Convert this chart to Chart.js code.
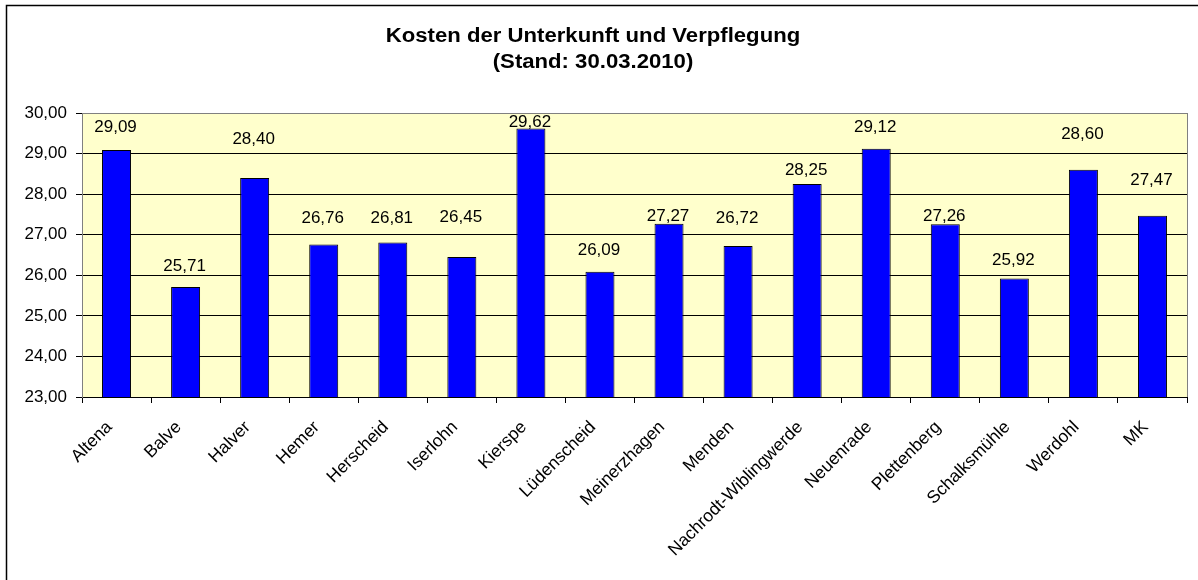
<!DOCTYPE html>
<html>
<head>
<meta charset="utf-8">
<script src="https://cdn.jsdelivr.net/npm/chart.js@4.4.1/dist/chart.umd.min.js"></script>
<style>
  html, body { margin: 0; padding: 0; background: #ffffff; }
  #wrap { width: 1198px; height: 580px; position: relative; }
</style>
</head>
<body>
<div id="wrap"><canvas id="c" width="1198" height="580"></canvas></div>
<script>
const categories = ["Altena", "Balve", "Halver", "Hemer", "Herscheid", "Iserlohn", "Kierspe", "Lüdenscheid", "Meinerzhagen", "Menden", "Nachrodt-Wiblingwerde", "Neuenrade", "Plettenberg", "Schalksmühle", "Werdohl", "MK"];
const costs = [29.09, 25.71, 28.40, 26.76, 26.81, 26.45, 29.62, 26.09, 27.27, 26.72, 28.25, 29.12, 27.26, 25.92, 28.60, 27.47];
const titleLines = ["Kosten der Unterkunft und Verpflegung", "(Stand: 30.03.2010)"];
const yMin = 23, yMax = 30, yStep = 1;

const fmt = v => v.toFixed(2).replace('.', ',');
const FONT = "'Liberation Sans', Arial, sans-serif";

const decorPlugin = {
  id: 'decor',
  beforeDraw(chart) {
    const ctx = chart.ctx, a = chart.chartArea;
    ctx.save();
    ctx.fillStyle = '#ffffff';
    ctx.fillRect(0, 0, chart.width, chart.height);
    ctx.fillStyle = '#FFFFCC';
    ctx.fillRect(a.left, a.top, a.right - a.left, a.bottom - a.top);
    // outer frame (cropped at right/bottom)
    ctx.strokeStyle = '#000000';
    ctx.lineWidth = 1.5;
    ctx.strokeRect(6.5, 5.5, chart.width + 20, chart.height + 20);
    // title
    ctx.fillStyle = '#000000';
    ctx.textAlign = 'center';
    ctx.textBaseline = 'alphabetic';
    ctx.font = "bold 19.5px " + FONT;
    const cx = 593;
    [[titleLines[0], 42], [titleLines[1], 68]].forEach(([t, y]) => {
      ctx.save();
      ctx.translate(cx, y);
      ctx.scale(1.135, 1);
      ctx.fillText(t, 0, 0);
      ctx.restore();
    });
    ctx.restore();
  },
  afterDraw(chart, args, opts) {
    const ctx = chart.ctx, a = chart.chartArea;
    ctx.save();
    ctx.strokeStyle = '#808080';
    ctx.lineWidth = 1;
    ctx.beginPath();
    ctx.moveTo(Math.round(a.right) + 0.5, a.top);
    ctx.lineTo(Math.round(a.right) + 0.5, a.bottom);
    ctx.stroke();
    // data labels
    const meta = chart.getDatasetMeta(0);
    const lifts = opts.lifts || [];
    ctx.fillStyle = '#000000';
    ctx.font = "17px " + FONT;
    ctx.textAlign = 'center';
    ctx.textBaseline = 'middle';
    meta.data.forEach((bar, i) => {
      const lift = lifts[i] !== undefined ? lifts[i] : 22;
      ctx.fillText(fmt(costs[i]), bar.x - 1, bar.y - lift);
    });
    ctx.restore();
  }
};

new Chart(document.getElementById('c'), {
  type: 'bar',
  data: {
    labels: categories,
    datasets: [{
      data: costs,
      backgroundColor: '#0000FF',
      borderColor: '#000000',
      borderWidth: 1,
      barPercentage: 0.42,
      categoryPercentage: 1.0
    }]
  },
  options: {
    responsive: false,
    animation: false,
    devicePixelRatio: 1,
    layout: { padding: { left: 0, top: 113, right: 11, bottom: 0 } },
    plugins: {
      legend: { display: false },
      title: { display: false },
      tooltip: { enabled: false },
      decor: {
        // label placement above each bar top (pixels), as laid out in the original
        lifts: [23, 21, 39, 26.5, 24.5, 39.5, 6.5, 21.5, 7, 28, 14, 21, 7.5, 18.5, 35, 35]
      }
    },
    scales: {
      x: {
        offset: true,
        afterFit(scale) { scale.height = 183; },
        grid: {
          offset: true,
          drawOnChartArea: false,
          drawTicks: true,
          tickLength: 6,
          tickColor: '#000000'
        },
        border: { color: '#000000', width: 1 },
        ticks: {
          minRotation: 45,
          maxRotation: 45,
          autoSkip: false,
          padding: 14,
          labelOffset: -7,
          color: '#000000',
          font: { family: FONT, size: 17.5 }
        }
      },
      y: {
        min: yMin,
        max: yMax,
        afterFit(scale) { scale.width = 82; },
        grid: {
          color: ctx => (ctx.tick && ctx.tick.value === yMax) ? '#808080' : '#000000',
          tickColor: '#000000',
          tickLength: 6,
          lineWidth: 1
        },
        border: { color: '#808080', width: 1 },
        ticks: {
          stepSize: yStep,
          padding: 9,
          color: '#000000',
          font: { family: FONT, size: 17 },
          callback: v => fmt(v)
        }
      }
    }
  },
  plugins: [decorPlugin]
});
</script>
</body>
</html>
